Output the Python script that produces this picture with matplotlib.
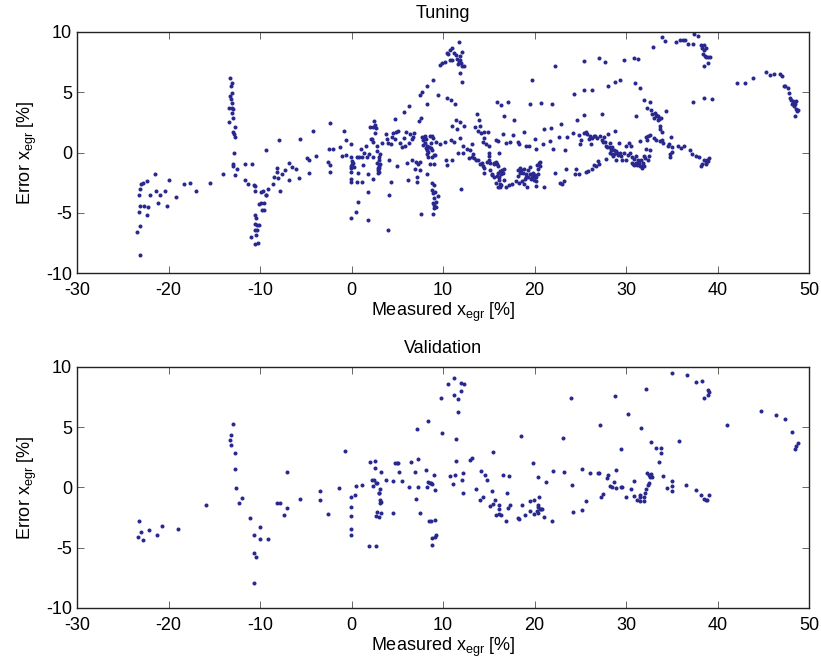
import numpy as np
import matplotlib
matplotlib.use("Agg")
import matplotlib.pyplot as plt

plt.rcParams['font.family'] = ['Liberation Sans', 'DejaVu Sans']
plt.rcParams['mathtext.default'] = 'regular'
plt.rcParams['axes.unicode_minus'] = False

DOT = '#28288f'

# tuning set, measured x_egr [%] vs model error [%], below ~8.6 %
tuning_low = [
    (-23.4, -6.6), (-23.1, -8.5), (-23.1, -6.1), (-23.2, -3.5), (-23.2, -4.9), (-23.1, -4.4),
    (-23.1, -3.0), (-23.0, -2.6), (-22.8, -2.5), (-22.7, -4.4), (-22.4, -5.2), (-22.4, -2.4),
    (-22.2, -4.5), (-22.0, -3.5), (-21.5, -1.8), (-21.4, -3.2), (-21.2, -4.2), (-20.9, -3.5),
    (-20.4, -3.2), (-20.2, -4.4), (-19.9, -2.3), (-19.2, -3.7), (-18.3, -2.6), (-17.7, -2.5),
    (-17.0, -3.2), (-15.5, -2.5), (-14.0, -1.8),
    (-13.3, 6.2), (-13.1, 5.8), (-13.2, 5.5), (-13.1, 4.9), (-13.3, 4.7), (-13.2, 4.4),
    (-13.1, 4.1), (-13.4, 3.7), (-13.05, 3.7), (-12.9, 3.65), (-13.1, 3.3), (-13.0, 2.9),
    (-13.35, 2.55), (-12.7, 2.1), (-12.9, 1.7), (-12.8, 1.5), (-12.7, 1.3), (-12.85, 0.0),
    (-12.95, -0.95), (-12.9, -1.15), (-12.55, -1.4), (-12.7, -1.85),
    (-11.6, -2.3), (-10.9, -0.95), (-11.6, -0.95), (-11.3, -2.6), (-10.7, -2.7), (-10.6, -2.75),
    (-10.5, -3.2), (-10.6, -5.2), (-10.4, -5.4), (-10.5, -5.9), (-10.3, -6.0), (-10.15, -6.0),
    (-10.6, -6.4), (-10.3, -6.4), (-10.4, -6.85), (-11.0, -7.0), (-10.5, -7.6), (-10.2, -7.5),
    (-10.1, -4.3), (-9.85, -4.2), (-9.8, -4.8), (-9.55, -4.8), (-9.55, -4.15), (-9.4, -3.55),
    (-9.7, -3.2), (-9.9, -3.25), (-9.35, -3.5), (-9.1, -3.05), (-8.55, -2.65), (-8.5, -2.05),
    (-8.1, -1.25), (-8.1, -1.65), (-8.05, -2.15), (-7.85, -3.2), (-7.6, -1.8), (-7.3, -1.45),
    (-6.8, -0.85), (-6.8, -2.3), (-6.45, -1.2), (-6.1, -1.4), (-5.75, -2.1), (-9.3, 0.2),
    (-7.9, 1.0), (-5.6, 1.15), (-4.9, -0.45), (-4.6, -0.6), (-4.7, -1.7), (-4.2, 1.8),
    (-3.85, -0.3), (-2.5, 0.3), (-2.35, 2.45), (-2.55, -0.8), (-2.3, -1.0), (-2.35, -1.6),
    (-2.0, 0.3), (-1.3, 0.45), (-1.0, -0.3), (-0.85, 1.75), (-0.6, 1.0), (-0.6, -0.2),
    (-0.1, 0.7),
    (-0.05, -0.4), (0.0, -0.7), (0.0, -0.95), (-0.1, -1.1), (-0.05, -1.3), (-0.1, -1.6),
    (-0.1, -2.2), (-0.05, -2.45), (-0.05, -5.45), (0.2, -0.9), (0.3, -1.2), (0.45, -4.95),
    (0.6, -2.45), (0.7, -4.1), (0.55, -0.4), (0.7, -1.7), (0.85, -0.35), (1.0, 0.3),
    (1.15, -0.4), (1.25, -1.0), (1.2, -2.45), (1.4, -0.05), (1.55, 0.5), (1.7, -0.4),
    (1.8, -1.8), (1.85, -3.3), (1.85, -5.6), (1.95, -0.1), (2.05, 2.1), (2.1, 1.1),
    (2.2, 1.1), (2.3, -0.35), (2.35, 0.9), (2.4, -2.2), (2.4, 2.15), (2.5, 2.6),
    (2.55, 2.3), (2.6, 1.6), (2.7, 2.0), (2.75, 0.15), (2.8, -0.85), (2.8, 0.5),
    (2.85, -1.3), (2.85, -1.7), (2.9, -1.45), (2.95, -1.1), (3.0, -0.4), (3.0, -1.6),
    (3.05, -1.25), (3.1, -0.95), (2.95, -0.6), (3.1, -0.1), (3.3, 0.8), (3.75, 1.5),
    (3.9, 1.15), (4.0, 0.75), (4.1, -0.6), (4.05, -3.55), (4.0, -6.4), (4.3, 0.7),
    (4.35, -2.45), (4.4, 1.3), (4.5, 1.6), (4.75, 2.8), (4.8, 1.15), (4.9, 1.7),
    (4.95, -1.1), (5.1, 1.75), (5.3, 0.8), (5.5, 0.45), (5.7, 3.4), (5.75, 1.2),
    (5.85, 0.55), (5.95, 1.7), (6.1, -0.9), (6.25, 3.9), (6.3, 0.8), (6.4, 1.5),
    (6.2, -2.3), (6.6, 1.1), (6.65, -0.6), (6.7, 1.3), (6.85, 1.6), (6.95, -1.4),
    (7.0, -0.75), (7.15, -2.45), (7.15, -2.0), (7.25, -0.95), (7.35, 2.6), (7.45, -0.75),
    (7.5, -1.45), (7.55, 2.9), (7.5, 4.75), (7.7, 5.05), (7.6, -5.1), (7.75, 1.25),
    (7.8, 0.6), (7.85, 1.05), (7.95, 1.25), (8.0, 0.75), (8.05, 1.4), (8.1, 0.35),
    (8.15, 1.1), (8.2, 4.0), (8.2, -0.1), (8.25, 0.5), (8.25, -1.8), (8.3, 0.2),
    (8.35, 0.05), (8.4, -0.35), (8.45, 0.45), (8.2, 5.55),
]

# tuning set, 8.6 % and above
tuning_high = [
    (8.62, 1.33), (8.8, 1.33), (8.73, 0.78), (8.91, 1.2), (8.69, 0.36), (8.84, 0.17),
    (8.98, -0.19), (8.77, -0.38), (9.17, -0.19), (8.62, -0.94), (9.06, -0.94),
    (8.84, -2.54), (9.06, -2.68), (8.77, -3.15), (9.13, -3.24), (8.91, -3.37), (9.42, -3.6),
    (8.98, -3.79), (9.2, -4.07), (8.91, -4.2), (9.06, -4.34), (9.28, -4.48), (8.98, -4.62),
    (8.91, -5.12), (8.91, 6.04), (9.49, 4.77), (9.71, 7.29), (9.93, 7.43), (9.28, 0.84),
    (9.71, 0.72),
    (10.22, 7.54), (10.44, 4.55), (10.44, 8.26), (10.51, 8.15), (10.73, 8.48), (11.02, 8.65),
    (11.24, 8.26), (11.39, 8.09), (11.53, 7.76), (11.72, 9.2), (11.83, 7.98), (11.9, 7.65),
    (11.75, 7.48), (11.68, 7.32), (11.97, 7.43), (12.12, 8.32), (12.26, 7.15), (12.12, 7.15),
    (11.9, 6.6), (12.08, 5.82), (10.95, 7.71), (10.81, 7.65), (10.88, 4.38), (11.32, 4.05),
    (10.3, -0.6), (10.44, -1.05), (11.02, -0.66), (10.95, 2.17), (11.46, 2.72), (11.53, 1.94),
    (11.83, 2.55), (12.34, 2.22), (10.22, 0.89), (10.88, 1.06), (11.24, 0.84), (11.9, 1.2),
    (11.68, -0.05), (12.19, 0.56), (12.19, -0.05), (12.63, 0.28), (12.92, 0.23), (12.85, -0.49),
    (13.14, -0.38), (13.28, -0.16), (13.43, -0.49), (13.65, -0.6), (13.87, -0.6), (11.97, -3.04),
    (13.21, 0.73), (13.5, 2.11), (13.72, 3.19), (13.9, 2.67), (14.01, 2.22), (13.87, 1.78),
    (14.16, 1.61), (14.45, 1.72), (14.38, 0.84), (14.52, 1.2), (14.67, 0.73), (15.03, 0.5),
    (15.03, -0.05), (15.03, -0.27), (14.96, 1.67),
    (14.08, -0.94), (14.3, -0.83), (14.38, -1.16), (14.45, -1.27), (14.52, -1.71), (14.81, -0.77),
    (14.99, -0.6), (15.1, -0.88), (15.18, -1.49), (15.32, -1.88), (15.4, -1.77), (15.54, -0.99),
    (15.61, -0.83), (15.76, -0.77), (15.91, -0.94), (15.98, -1.16), (15.54, -2.05),
    (15.76, -2.49), (15.91, -1.93), (16.05, -1.71), (16.12, -1.99), (16.12, -2.27), (16.2, -2.6),
    (16.27, -1.55), (16.34, -1.77), (16.34, -2.71), (16.49, -1.44), (16.56, -1.71), (16.63, -1.38),
    (16.71, -2.27), (16.05, -2.82), (16.27, -2.82),
    (15.76, 1.06), (16.05, 0.92), (16.12, -0.05), (16.56, 1.56), (16.71, 3.0), (15.91, 4.22),
    (16.34, 3.94), (17.07, 4.16), (17.8, 2.66), (16.85, 0.78), (17.22, -2.71), (17.58, -2.65),
    (17.36, 0.84), (17.65, 1.45), (16.93, -2.88),
    (17.95, -2.38), (18.16, -1.93), (18.24, -1.44), (18.31, -2.54), (18.38, -1.27), (18.46, -1.66),
    (18.53, -1.49), (18.64, -2.38), (18.75, -1.71), (18.82, -1.38), (18.89, -2.6), (18.97, -2.16),
    (19.04, -1.99), (19.11, -1.82), (19.18, -2.82), (19.26, -1.44), (19.33, -1.99), (19.48, -1.82),
    (19.55, -1.21), (19.62, -2.16), (19.69, -1.99), (19.77, -1.77), (19.84, -1.71), (19.91, -1.99),
    (19.99, -2.27), (20.06, -1.88), (20.13, -2.38), (20.2, -1.99), (20.28, -1.05), (20.35, -1.77),
    (20.42, -1.38), (20.5, -0.88), (20.57, -0.77), (20.64, -1.16), (20.2, -2.77), (21.08, -2.82),
    (18.31, 0.73), (18.24, 0.89), (18.89, 1.72), (19.11, 0.56), (19.4, 0.56), (19.69, 5.99),
    (19.55, 3.99), (20.06, 1.11), (20.2, 0.28), (20.71, 4.1), (20.93, 0.67), (21.0, 1.94),
    (21.81, 2.05), (21.88, 3.99), (21.73, 0.95), (22.03, 0.31), (22.24, 7.21), (22.24, -1.66),
    (22.68, 1.28), (22.75, -2.49), (22.9, 2.39), (22.97, -2.6), (23.19, -2.38), (23.34, 0.17),
    (23.41, -1.38), (23.56, 1.28), (24.21, 1.61), (24.36, 4.82), (24.43, -1.82), (24.5, -1.33),
    (24.65, 2.72), (24.87, 1.45), (24.87, -1.82), (24.94, 0.73), (25.09, 1.06), (25.38, 5.21),
    (25.38, 7.6), (25.38, 3.11), (25.45, 1.61), (25.6, -1.6), (25.67, 1.67), (25.74, 1.5),
    (25.81, -1.55), (25.96, 1.11), (26.03, 1.39), (26.18, 0.67), (26.25, 5.16), (26.32, -1.33),
    (26.32, 1.17), (26.47, -1.05), (26.54, 1.39), (26.62, 1.33), (26.69, -1.16), (26.83, 1.17),
    (26.91, -0.72), (27.05, -0.94), (27.05, 7.82), (27.2, 1.39), (27.34, 1.06), (27.42, 3.16),
    (27.49, 0.89), (27.56, 1.28), (27.71, 7.48), (27.71, 0.84), (27.78, 0.56), (27.85, -0.55),
    (27.93, 0.45), (28.0, 5.49), (28.07, 1.5), (28.15, 0.42), (28.22, -0.05), (28.29, 0.78),
    (28.36, 0.23), (28.44, -0.11), (28.51, 0.45), (28.58, -0.33), (28.66, 0.23), (28.73, -0.16),
    (28.8, 5.88), (28.8, 1.78), (28.87, 0.12), (28.95, -0.6), (29.02, 0.0), (29.17, -0.22),
    (29.24, 0.78), (29.31, 5.99), (29.38, 0.0), (29.46, -0.27), (29.6, -0.6), (29.75, 7.65),
    (29.75, -0.05), (29.97, -0.6), (30.04, 0.56), (30.19, -0.22), (30.33, 0.78), (30.48, -0.05),
    (30.55, 0.5), (30.62, -0.88), (30.7, -0.38), (30.77, -0.94), (30.84, -0.55), (30.91, 7.87),
    (30.91, -1.05), (30.99, 5.77), (31.06, -0.33), (31.13, 3.0), (31.13, -0.83), (31.21, -1.05),
    (31.28, -0.66), (31.35, 7.76), (31.42, -0.88), (31.5, -1.1), (31.57, 5.32), (31.57, 0.95),
    (31.64, -0.6), (31.72, -1.16), (31.79, -1.27), (31.86, -0.88), (31.93, -1.16), (32.01, 4.33),
    (32.01, -0.27), (32.08, -0.49), (32.15, 1.28), (32.23, 0.28), (32.3, 3.72), (32.3, 1.06),
    (32.37, -0.6), (32.44, 1.33), (32.52, -0.27), (32.59, 1.45), (32.59, 4.16), (32.66, 0.17),
    (32.74, 3.5), (32.81, 3.16), (32.96, 8.76), (33.03, 1.17), (33.1, 2.83), (33.17, 3.27),
    (33.25, 3.11), (33.32, 1.06), (33.39, 3.0), (33.46, 2.72), (33.54, 3.05), (33.61, 2.77),
    (33.68, 2.17), (33.68, 0.95), (33.76, 1.94), (33.83, 2.89), (33.9, 1.72), (33.98, 9.59),
    (33.98, 1.0), (34.05, 0.78), (34.27, 9.26), (34.34, 3.44), (34.56, 0.56), (34.7, 0.73),
    (34.78, -0.16), (34.85, -0.38), (34.92, 1.28), (35.0, 0.06), (35.07, 0.45), (35.51, 9.2),
    (35.65, 0.5), (35.94, 9.37), (36.02, 0.39), (36.23, 9.31), (36.38, 0.5), (36.45, 9.37),
    (36.82, 9.04), (36.96, 0.23), (37.25, -0.11), (37.33, 9.04), (37.33, 4.22), (37.4, 9.81),
    (37.69, -0.27), (37.91, 9.7), (37.98, -0.38), (38.2, -1.16), (38.2, 8.92), (38.27, 8.65),
    (38.35, -0.94), (38.42, 8.2), (38.49, 8.48), (38.49, -0.6), (38.56, 8.92), (38.64, 7.98),
    (38.71, -0.99), (38.71, 7.93), (38.78, 8.65), (38.78, -0.83), (38.85, -0.6), (38.93, -0.72),
    (39.0, 7.93), (39.0, 7.43), (39.07, -0.44), (39.15, 7.93), (38.49, 7.21), (38.56, 4.49),
    (39.44, 4.44),
    (42.13, 5.77), (43.01, 5.77), (43.88, 6.21), (45.27, 6.71), (45.71, 6.43), (46.14, 6.54),
    (46.8, 6.54), (47.02, 6.32), (47.24, 5.54), (47.38, 5.54), (47.67, 5.38), (47.82, 4.94),
    (47.96, 4.49), (48.04, 4.38), (48.18, 4.05), (48.26, 4.24), (48.33, 3.88), (48.48, 4.05),
    (48.55, 3.61), (48.62, 4.24), (48.69, 3.41), (48.77, 3.55), (48.48, 3.05),
]

# validation set, below ~8.6 %
validation_low = [
    (-23.38, -4.13), (-23.24, -2.77), (-23.05, -3.71), (-22.8, -4.35), (-22.18, -3.52),
    (-21.31, -3.93), (-20.69, -3.21), (-18.91, -3.43), (-15.89, -1.44),
    (-12.98, 5.24), (-13.2, 4.38), (-13.24, 3.93), (-13.2, 3.49), (-12.76, 2.85), (-12.69, 1.5),
    (-12.65, -0.06), (-11.96, -0.86), (-12.25, -1.33), (-11.13, -2.55), (-10.65, -3.93),
    (-10.0, -4.29), (-9.96, -3.24), (-9.16, -4.29), (-10.62, -5.46), (-10.4, -5.79), (-10.65, -7.95),
    (-8.18, -1.3), (-7.82, -1.3), (-7.38, -2.27), (-7.02, -1.69), (-7.05, 1.3), (-5.6, -0.94),
    (-3.49, -1.05), (-3.42, -0.28), (-2.58, -2.22), (-1.35, -0.06), (-0.73, 3.05),
    (-0.07, -0.8), (-0.07, -1.63), (-0.07, -2.33), (-0.07, -3.41), (-0.07, -3.91), (0.33, -0.64),
    (0.47, 0.11), (1.13, 0.19), (2.0, 2.08), (2.58, 2.22), (2.55, 1.61), (2.25, 0.58),
    (2.4, 0.14), (2.47, 0.61), (2.69, 0.39), (2.84, 0.39), (2.95, -0.5), (3.02, -0.5),
    (3.09, -0.11), (3.16, -1.05), (3.13, -1.3), (3.2, -1.2), (3.24, -2.16), (2.8, -2.02),
    (2.65, -2.41), (2.95, -2.49), (3.24, 1.27), (3.75, 0.61), (4.51, 0.53), (4.55, -2.11),
    (1.96, -4.82), (2.65, -4.88), (4.76, 2.02), (4.98, 2.02), (5.13, 2.02), (5.2, 1.25),
    (5.56, 0.55), (6.25, 0.03), (6.55, 2.08), (6.98, 1.25), (7.09, -0.94), (7.27, 2.35),
    (7.27, 0.06), (7.2, 4.82), (7.53, -2.11), (8.18, 1.44), (8.25, 0.0), (8.33, 5.51),
    (8.4, 0.44), (8.55, 0.33), (8.47, -2.77),
]

# validation set, 8.6 % and above
validation_high = [
    (9.06, 1.06), (8.69, 0.36), (8.84, 0.25), (9.13, -0.19), (8.69, -2.77), (9.13, -2.71),
    (8.84, -4.2), (9.13, -4.1), (9.2, -3.93), (8.84, -4.76), (9.79, 7.43), (9.86, 4.52),
    (10.59, 8.59), (11.24, 9.09), (11.97, 8.65), (12.26, 8.54), (11.97, 8.04), (11.24, 7.71),
    (11.68, 7.32), (11.61, 6.27), (11.46, 3.99), (11.46, 2.17), (10.73, 0.95), (11.32, 1.0),
    (11.1, 0.28), (12.19, 1.22), (12.04, 0.61), (12.19, -0.44),
    (12.92, 2.28), (13.21, 2.42), (13.65, -0.16), (14.16, 1.36), (14.59, 1.06), (14.81, 0.64),
    (14.01, -1.05), (14.41, -0.8), (15.4, -0.3), (15.1, -1.57), (15.43, -1.41), (15.69, -1.02),
    (15.76, -2.3), (16.12, -1.49), (16.16, -1.8), (16.12, -2.18), (16.34, -2.27), (16.85, -2.77),
    (17.04, -0.44), (17.14, -1.69), (17.29, -1.46), (15.47, 2.91), (16.56, 1.03), (17.18, 0.95),
    (18.24, -2.52), (18.31, -2.65), (18.6, -1.46), (18.53, 4.3), (18.97, -2.27), (19.48, -1.1),
    (19.55, -1.93), (19.84, 2.0), (19.91, -2.21), (19.99, -1.05), (20.35, 0.89), (20.35, -1.66),
    (20.28, -1.99), (20.42, -1.44), (20.42, -2.16), (20.5, -0.77), (20.57, -1.77), (20.71, -1.77),
    (20.86, -1.82), (21.08, -2.46), (21.3, 0.42), (21.95, -2.77), (22.03, 1.36),
    (23.12, 4.1), (23.19, 1.3), (24.07, 0.23), (24.21, -2.05), (23.99, 7.46), (25.16, -1.88),
    (25.16, 1.5), (25.6, -1.1), (26.11, 1.2), (26.91, 1.17), (27.05, 1.17), (27.2, 5.21),
    (27.27, -0.83), (27.49, -0.55), (27.93, 0.78), (28.07, 1.0), (28.29, 0.12), (28.44, 0.06),
    (28.73, 0.45), (28.8, 7.57), (28.87, -0.05), (28.95, 1.42), (29.46, 3.16), (29.46, 0.06),
    (29.6, 0.0), (30.04, -0.83), (30.19, 6.07), (30.55, -0.11), (30.91, 0.5), (30.91, -0.72),
    (31.21, -1.05), (31.5, -0.6), (31.5, -0.83), (31.57, -1.1), (31.64, 4.91), (32.01, -0.83),
    (32.01, -1.1), (32.08, -0.49), (32.23, -0.16), (32.3, 1.17), (32.23, 8.18), (32.37, 0.17),
    (32.52, 0.33), (32.52, 1.06), (32.66, 0.89), (32.74, 1.11), (32.74, 3.74), (32.81, 0.89),
    (33.32, 3.3), (33.61, 2.08), (33.83, 3.27), (33.83, 2.83), (34.05, 0.95), (34.49, -0.05),
    (35.0, 0.56), (35.0, 0.12), (35.0, -0.27), (35.07, 9.53), (35.8, 3.86), (36.6, 0.23),
    (36.67, 9.31), (37.62, -0.22), (37.69, 8.76), (38.2, -0.6), (38.35, 8.87), (38.56, -0.99),
    (38.71, -1.05), (38.85, -1.05), (39.07, -0.6), (38.56, 7.43), (39.0, 8.09), (39.07, 7.93),
    (39.0, 7.71),
    (41.04, 5.21), (44.76, 6.32), (46.36, 6.04), (47.38, 5.71), (48.18, 4.63), (48.48, 3.22),
    (48.62, 3.44), (48.84, 3.66),
]

x_ticks = [-30, -20, -10, 0, 10, 20, 30, 40, 50]
y_ticks = [-10, -5, 0, 5, 10]


def draw_panel(ax, pts, title):
    xy = np.array(pts)
    ax.plot(xy[:, 0], xy[:, 1], 'o', ms=2.9, mec='none', mfc=DOT, clip_on=False)
    ax.set_xlim(-30, 50)
    ax.set_ylim(-10, 10)
    ax.set_xticks(x_ticks)
    ax.set_yticks(y_ticks)
    ax.tick_params(direction='in', top=True, right=True, length=5, width=0.7,
                   color='#666666', labelsize=13)
    ax.tick_params(axis='x', pad=6.5)
    ax.tick_params(axis='y', pad=3.5)
    for s in ax.spines.values():
        s.set_linewidth(1.0)
        s.set_color('#222222')
    ax.set_title(title, fontsize=13, pad=10)
    ax.set_xlabel('Measured x$_{egr}$ [%]', fontsize=13, labelpad=1)
    ax.set_ylabel('Error x$_{egr}$ [%]', fontsize=13, labelpad=5)


fig = plt.figure(figsize=(8.21, 6.66), dpi=100)
ax1 = fig.add_axes([0.0938, 0.590, 0.8916, 0.362])
ax2 = fig.add_axes([0.0938, 0.0871, 0.8916, 0.362])

draw_panel(ax1, tuning_low + tuning_high, 'Tuning')
draw_panel(ax2, validation_low + validation_high, 'Validation')

fig.savefig('out.png', dpi=100)
